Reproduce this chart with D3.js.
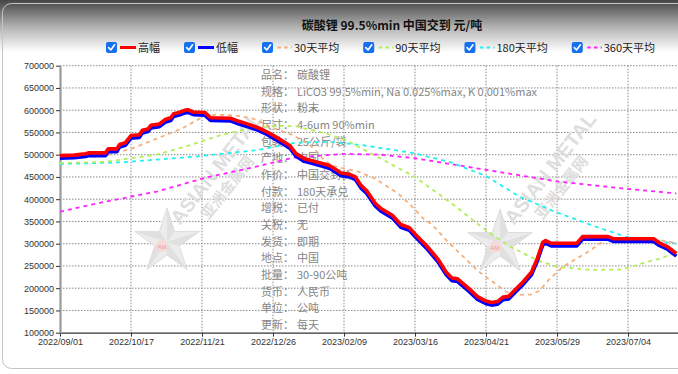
<!DOCTYPE html>
<html><head><meta charset="utf-8">
<script src="https://cdn.jsdelivr.net/npm/d3@7/dist/d3.min.js"></script>
<style>body{margin:0;background:#fff;overflow:hidden}svg{display:block}</style>
</head><body>
<svg id="chart" width="678" height="374"></svg>
<script>
// ---------- DATA ----------
const chartTitle = "碳酸锂 99.5%min 中国交到 元/吨";
const xTickLabels = ["2022/09/01","2022/10/17","2022/11/21","2022/12/26","2023/02/09","2023/03/16","2023/04/21","2023/05/29","2023/07/04"];
const xTickDays = [0,25,50,75,100,125,150,175,200];
const lastDay = 217;
const yTickValues = [100000,150000,200000,250000,300000,350000,400000,450000,500000,550000,600000,650000,700000];

const priceDays = [0,5,9,10,16,17,20,21,23,25,28,29,31,32,35,37,39,40,42,44,45,47,51,53,60,63,67,70,73,76,81,83,86,89,93,95,99,102,104,106,108,111,113,117,120,123,125,129,133,136,138,140,144,147,150,152,154,156,158,160,163,166,168,170,171,173,182,184,193,195,209,211,214,217];
const highPrice = [498000,499000,502000,504000,504000,513000,513000,523000,527000,543000,545000,555000,558000,566000,569000,579000,583000,592000,595000,600000,601000,596000,595000,583000,582000,575000,567000,560000,551000,540000,520000,503000,491000,486000,479000,475000,459000,456000,450000,431000,419000,391000,379000,364000,343000,336000,322000,296000,266000,236000,223000,221000,199000,181000,171000,168000,170000,180000,182000,195000,214000,236000,266000,303000,307000,301000,301000,316000,316000,311000,311000,302000,293000,278000];
const lowPrice  = [492000,493000,496000,498000,498000,507000,507000,517000,521000,537000,539000,549000,552000,560000,563000,573000,577000,586000,589000,594000,595000,590000,589000,577000,576000,569000,561000,554000,545000,534000,514000,497000,485000,480000,473000,469000,453000,450000,444000,425000,413000,385000,373000,358000,337000,330000,316000,290000,260000,230000,217000,215000,193000,175000,165000,162000,164000,174000,176000,189000,208000,230000,260000,297000,301000,295000,295000,310000,310000,305000,305000,296000,287000,272000];

const ma30Days  = [0,9,16,25,34,43,50,55,62,68,75,82,88,90,93,96,100,105,111,119,123,128,131,136,142,147,150,154,157,161,166,169,172,177,185,191,194,204,211,217];
const ma30Vals  = [492000,494000,498000,513000,536000,559000,584000,590000,588000,581000,560000,544000,522000,510000,488000,475000,469000,462000,446000,413000,390000,356000,343000,308000,271000,240000,225000,207000,192000,185000,186000,195000,218000,248000,278000,304000,311000,310000,308000,302000];
const ma90Days  = [0,16,34,45,56,66,76,83,94,101,113,125,138,150,158,168,175,187,198,205,211,217];
const ma90Vals  = [481000,484000,500000,520000,543000,558000,565000,564000,547000,532000,491000,450000,390000,330000,295000,263000,248000,241000,242000,256000,266000,280000];
const ma180Days = [0,22,48,69,83,95,107,125,138,150,162,175,187,199,208,217];
const ma180Vals = [479000,483000,496000,510000,527000,529000,521000,503000,482000,452000,405000,370000,342000,316000,308000,300000];
const ma360Days = [0,14,34,51,69,82,100,113,125,150,175,197,217];
const ma360Vals = [372000,392000,417000,448000,473000,493000,502000,500000,492000,466000,440000,425000,413000];

const legendNames = ["高幅","低幅","30天平均","90天平均","180天平均","360天平均"];
const seriesColors = ["#ff0000","#0000ff","#f4b07a","#b2ee5a","#22f0f0","#ff22ff"];

const infoLabels = ["品名：","规格：","形状：","尺寸：","包装：","产地：","作价：","付款：","增税：","关税：","发货：","地点：","批量：","货币：","单位：","更新："];
const infoValues = ["碳酸锂","LiCO3 99.5%min, Na 0.025%max, K 0.001%max","粉末","4-6um 90%min","25公斤/袋","中国","中国交到价","180天承兑","已付","无","即期","中国","30-90公吨","人民币","公吨","每天"];

// ---------- LAYOUT ----------
const W = 678, H = 374;
const plot = {left: 60, right: 676.3, top: 65.7, bottom: 332.7};
const svg = d3.select("#chart");
const cjk = "'Noto Sans CJK SC','Noto Sans',sans-serif";
const latin = "'Liberation Sans',Arial,sans-serif";

const defs = svg.append("defs");
const grad = defs.append("linearGradient").attr("id","topGrad").attr("x1",0).attr("y1",0).attr("x2",0).attr("y2",1);
grad.append("stop").attr("offset","0%").attr("stop-color","#454545");
grad.append("stop").attr("offset","55%").attr("stop-color","#b8b8b8");
grad.append("stop").attr("offset","100%").attr("stop-color","#ffffff");

svg.append("rect").attr("width",W).attr("height",H).attr("fill","#fff");
svg.append("rect").attr("x",0).attr("y",0).attr("width",W).attr("height",52).attr("fill","url(#topGrad)");
svg.append("rect").attr("x",2.5).attr("y",3.5).attr("width",720).attr("height",365).attr("rx",9)
  .attr("fill","none").attr("stroke","#c4c4c4").attr("stroke-width",1);

const x = d3.scaleLinear().domain([0,lastDay]).range([plot.left, plot.right]);
const y = d3.scaleLinear().domain([100000,700000]).range([plot.bottom, plot.top]);

// grid
const grid = svg.append("g");
grid.selectAll("line.h").data(yTickValues.filter(v=>v>100000)).join("line")
  .attr("x1",plot.left).attr("x2",W).attr("y1",d=>y(d)).attr("y2",d=>y(d))
  .attr("stroke","#8a8a8a").attr("stroke-width",1).attr("stroke-dasharray","1.5,1.5");
grid.selectAll("line.v").data(xTickDays.filter(d=>d>0)).join("line")
  .attr("x1",d=>x(d)).attr("x2",d=>x(d)).attr("y1",plot.top).attr("y2",plot.bottom)
  .attr("stroke","#8a8a8a").attr("stroke-width",1).attr("stroke-dasharray","1.5,1.5");

// watermark
function watermark(cx, cy, tx, ty){
  const g = svg.append("g");
  const pts = [];
  for(let i=0;i<10;i++){
    const r = i%2===0 ? 34 : 13;
    const a = -Math.PI/2 + i*Math.PI/5;
    pts.push([cx + r*Math.cos(a), cy + r*Math.sin(a)]);
  }
  g.append("path").attr("d","M"+pts.map(p=>p.join(",")).join("L")+"Z")
    .attr("fill","#ececec").attr("stroke","#dedede");
  // shaded half of each arm
  for(let k=0;k<5;k++){
    const tip = pts[2*k], inner = pts[(2*k+1)%10];
    g.append("path").attr("d",`M${cx},${cy}L${tip[0]},${tip[1]}L${inner[0]},${inner[1]}Z`).attr("fill","#e0e0e0");
  }
  g.append("circle").attr("cx",cx-5).attr("cy",cy+4).attr("r",6).attr("fill","#f6dada");
  g.append("text").attr("x",cx-5).attr("y",cy+6.5).attr("text-anchor","middle")
    .attr("font-size",6).attr("font-family",latin).attr("fill","#e8a0a0").text("AM");
  const t = g.append("g").attr("transform",`translate(${tx},${ty}) rotate(-52)`);
  t.append("text").attr("x",0).attr("y",0).attr("font-family",latin).attr("font-weight","bold")
    .attr("font-size",20).attr("fill","#dedede").text("ASIAN METAL");
  t.append("text").attr("x",22).attr("y",19).attr("font-family",cjk).attr("font-weight","bold")
    .attr("font-size",15).attr("fill","#dedede").text("亚洲金属网");
}
watermark(167, 242, 180, 226);
watermark(500, 243, 514, 226);

// info text
const info = svg.append("g").attr("font-family",cjk).attr("font-size",11).attr("fill","#858585");
infoLabels.forEach((lab,i)=>{
  const cy = 75 + i*16.67 + 4;
  info.append("text").attr("x",261).attr("y",cy).text(lab);
  info.append("text").attr("x",297).attr("y",cy).text(infoValues[i]);
});

// axes
const xAxis = d3.axisBottom(x).tickValues(xTickDays).tickFormat((d,i)=>xTickLabels[i]).tickSize(4).tickSizeOuter(0);
const gx = svg.append("g").attr("transform",`translate(0,${plot.bottom})`).call(xAxis);
gx.select(".domain").attr("d",`M${plot.left},0.5H${W}`).attr("stroke","#333").attr("stroke-width",1.2);
gx.selectAll(".tick line").attr("stroke","#333");
gx.selectAll(".tick text").attr("font-family",latin).attr("font-size",9).attr("fill","#333").attr("dy","0.55em");

const yAxis = d3.axisLeft(y).tickValues(yTickValues).tickFormat(d3.format("d")).tickSize(4).tickSizeOuter(0);
const gy = svg.append("g").attr("transform",`translate(${plot.left},0)`).call(yAxis);
gy.select(".domain").attr("stroke","#999").attr("stroke-width",2.2);
gy.selectAll(".tick line").attr("stroke","#333");
gy.selectAll(".tick text").attr("font-family",latin).attr("font-size",9).attr("fill","#333").attr("x",-6);

// series
const line = d3.line().x(d=>x(d[0])).y(d=>y(d[1]));
const zip = (a,b)=>a.map((d,i)=>[d,b[i]]);
const lines = svg.append("g");
const maDefs = [[ma360Days,ma360Vals,5],[ma180Days,ma180Vals,4],[ma90Days,ma90Vals,3],[ma30Days,ma30Vals,2]];
maDefs.forEach(([dd,vv,ci])=>{
  lines.append("path").datum(zip(dd,vv)).attr("d",line).attr("fill","none")
    .attr("stroke",seriesColors[ci]).attr("stroke-width",1.8).attr("stroke-dasharray","4,4");
});
lines.append("path").datum(zip(priceDays,lowPrice)).attr("d",line).attr("fill","none")
  .attr("stroke",seriesColors[1]).attr("stroke-width",3.6).attr("stroke-linejoin","round");
lines.append("path").datum(zip(priceDays,highPrice)).attr("d",line).attr("fill","none")
  .attr("stroke",seriesColors[0]).attr("stroke-width",3.6).attr("stroke-linejoin","round");

// title
svg.append("text").attr("x",392).attr("y",30).attr("text-anchor","middle")
  .attr("font-family",cjk).attr("font-weight","bold").attr("font-size",12).attr("fill","#111").text(chartTitle);

// legend
const lg = svg.append("g");
let lx = 106;
legendNames.forEach((name,i)=>{
  const g = lg.append("g").attr("transform",`translate(${lx},0)`);
  g.append("rect").attr("x",0).attr("y",42).attr("width",11).attr("height",11).attr("rx",2).attr("fill","#1570ef");
  g.append("path").attr("d","M2.6,47.6 L4.8,50 L8.6,44.8").attr("fill","none").attr("stroke","#fff").attr("stroke-width",1.6).attr("stroke-linecap","round").attr("stroke-linejoin","round");
  const ls = g.append("line").attr("x1",14).attr("x2",30).attr("y1",47.5).attr("y2",47.5).attr("stroke",seriesColors[i]);
  if(i<2) ls.attr("stroke-width",3); else ls.attr("stroke-width",2).attr("stroke-dasharray","3.5,3.2").attr("x1",15.5);
  const t = g.append("text").attr("x",32).attr("y",51.5).attr("font-family",cjk).attr("font-size",11).attr("fill","#222").text(name);
  const tw = t.node().getComputedTextLength();
  lx += 32 + tw + 24;
});
</script>
</body></html>
